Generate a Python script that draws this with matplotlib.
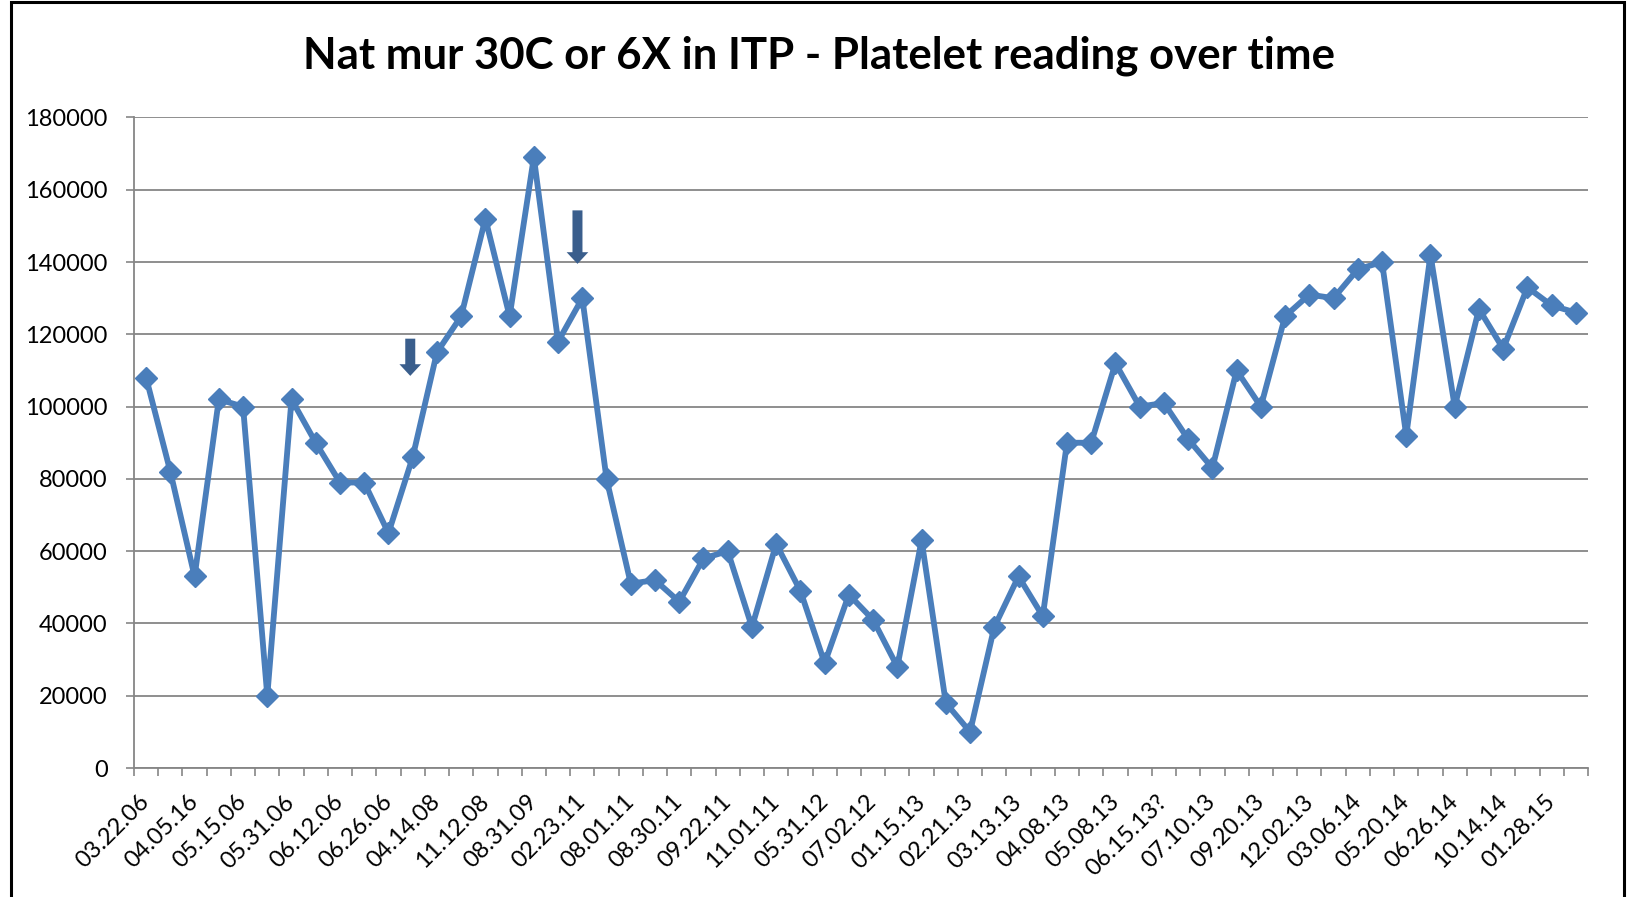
import matplotlib.pyplot as plt
import numpy as np
from matplotlib.patches import Rectangle

plt.rcParams["font.family"] = ["Lato", "DejaVu Sans"]

# platelet readings, one per visit (60 visits)
platelets = [
    108000, 82000, 53000, 102000, 100000, 20000, 102000, 90000, 79000, 79000,
    65000, 86000, 115000, 125000, 152000, 125000, 169000, 118000, 130000, 80000,
    51000, 52000, 46000, 58000, 60000, 39000, 62000, 49000, 29000, 48000,
    41000, 28000, 63000, 18000, 10000, 39000, 53000, 42000, 90000, 90000,
    112000, 100000, 101000, 91000, 83000, 110000, 100000, 125000, 131000, 130000,
    138000, 140000, 92000, 142000, 100000, 127000, 116000, 133000, 128000, 126000,
]

# only every second visit is labelled on the axis
date_labels = [
    "03.22.06", "04.05.16", "05.15.06", "05.31.06", "06.12.06", "06.26.06",
    "04.14.08", "11.12.08", "08.31.09", "02.23.11", "08.01.11", "08.30.11",
    "09.22.11", "11.01.11", "05.31.12", "07.02.12", "01.15.13", "02.21.13",
    "03.13.13", "04.08.13", "05.08.13", "06.15.13?", "07.10.13", "09.20.13",
    "12.02.13", "03.06.14", "05.20.14", "06.26.14", "10.14.14", "01.28.15",
]

y_ticks = list(range(0, 180001, 20000))

# remedy markers: (category position, arrow top, arrow tip)
arrows = [(10.9, 118800, 108500), (17.8, 154300, 139500)]

TITLE = "Nat mur 30C or 6X in ITP - Platelet reading over time"

LINE_COLOR = "#4a7ebb"
ARROW_COLOR = "#3a5e8c"
GRID_COLOR = "#868686"


def main() -> None:
    W, H = 1629, 897
    fig = plt.figure(figsize=(W / 100, H / 100), dpi=100)
    ax = fig.add_axes([134 / W, 1 - 768 / H, (1588 - 134) / W, (768 - 117.5) / H])

    x = np.arange(len(platelets))
    ax.plot(x, platelets, color=LINE_COLOR, lw=4.2, marker="D", ms=11,
            mec=LINE_COLOR, mfc=LINE_COLOR, zorder=3, clip_on=False)

    for xa, top, tip in arrows:
        ax.annotate("", xy=(xa, tip), xytext=(xa, top),
                    arrowprops=dict(arrowstyle="simple,head_length=0.42,head_width=0.78,tail_width=0.36",
                                    mutation_scale=20, color=ARROW_COLOR, lw=0,
                                    shrinkA=0, shrinkB=0),
                    zorder=4)

    ax.set_xlim(-0.5, len(platelets) - 0.5)
    ax.set_ylim(0, 180000)

    # y axis
    ax.set_yticks(y_ticks)
    ax.set_yticklabels([str(v) for v in y_ticks])
    ax.yaxis.grid(True, color=GRID_COLOR, lw=1.3)
    ax.set_axisbelow(True)
    ax.tick_params(axis="y", length=6, width=1.2, color=GRID_COLOR, pad=13, labelsize=17)

    # x axis: labels on every other point, tick marks between categories
    labels = [""] * len(platelets)
    for i, lab in enumerate(date_labels):
        labels[2 * i] = lab
    ax.set_xticks(x)
    ax.set_xticklabels(labels, rotation=45, ha="right", va="center", rotation_mode="anchor")
    ax.set_xticks(np.arange(len(platelets) + 1) - 0.5, minor=True)
    ax.tick_params(axis="x", which="major", length=0, pad=22, labelsize=17)
    ax.tick_params(axis="x", which="minor", length=6, width=1.2, color=GRID_COLOR)

    for side in ("top", "right"):
        ax.spines[side].set_visible(False)
    for side in ("left", "bottom"):
        ax.spines[side].set_color(GRID_COLOR)
        ax.spines[side].set_linewidth(1.3)

    fig.text(819 / W, 1 - 56 / H, TITLE, ha="center", va="center",
             fontsize=31.5, fontweight="bold")

    # chart area border
    fig.add_artist(Rectangle((11 / W, -0.05), (1624 - 11) / W, 1.05 - 2.5 / H,
                             transform=fig.transFigure, fill=False,
                             edgecolor="black", lw=2.2))

    fig.savefig("out.png", dpi=100)


if __name__ == "__main__":
    main()
